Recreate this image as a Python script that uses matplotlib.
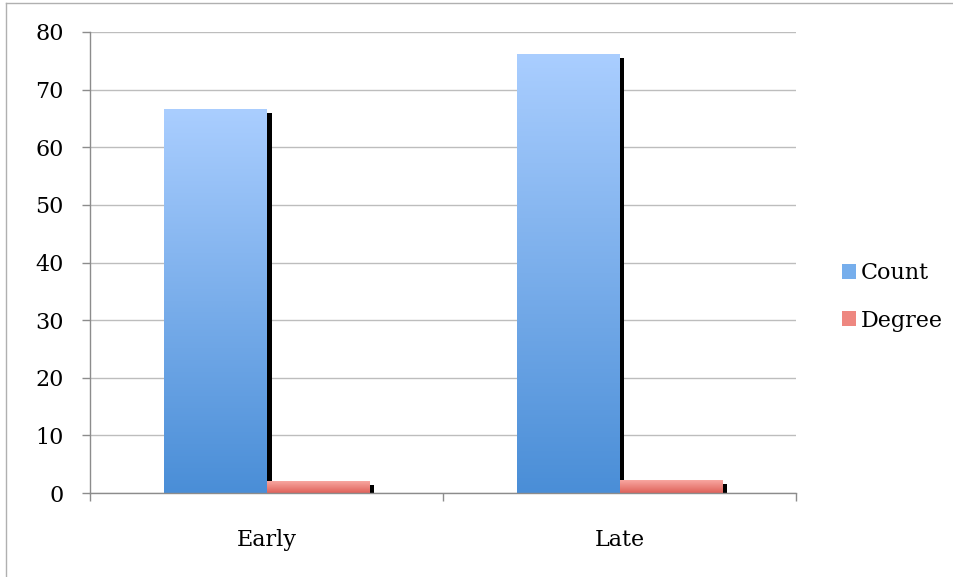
import numpy as np
import matplotlib
matplotlib.use("Agg")
import matplotlib.pyplot as plt
from matplotlib.colors import LinearSegmentedColormap
from matplotlib.patches import Patch
from matplotlib.transforms import ScaledTranslation
from matplotlib.lines import Line2D

categories = ["Early", "Late"]
series_names = ["Count", "Degree"]
count_values = [66.7, 76.2]
degree_values = [2.1, 2.3]
y_ticks = [0, 10, 20, 30, 40, 50, 60, 70, 80]

# gradient colour stops (top, bottom) for each series
grad_colors = {
    "Count": ("#AACEFF", "#4A8ED7"),
    "Degree": ("#FAACA6", "#DF625A"),
}

plt.rcParams["font.family"] = ["DejaVu Serif"]

fig = plt.figure(figsize=(9.54, 5.77), dpi=100)
ax = fig.add_axes([90 / 954, 1 - 493 / 577, 706 / 954, 461 / 577])

x = np.arange(len(categories))
width = 0.289
offsets = [-width / 2, width / 2]
series = [count_values, degree_values]

shadow = ax.transData + ScaledTranslation(5 / 100, -4.5 / 100, fig.dpi_scale_trans)

for name, vals, off in zip(series_names, series, offsets):
    top, bottom = grad_colors[name]
    cmap = LinearSegmentedColormap.from_list(name, [bottom, top])
    grad = np.linspace(0, 1, 256).reshape(-1, 1)
    for xi, v in zip(x, vals):
        left = xi + off - width / 2
        # drop shadow
        ax.bar(xi + off, v, width=width, color="black", zorder=2,
               transform=shadow, clip_on=True)
        # gradient fill clipped to the bar
        bar = ax.bar(xi + off, v, width=width, color="none", zorder=3)[0]
        im = ax.imshow(grad, extent=[left, left + width, 0, v], origin="lower",
                       aspect="auto", cmap=cmap, zorder=3, interpolation="bilinear")
        im.set_clip_path(bar)

ax.set_xlim(-0.5, len(categories) - 0.5)
ax.set_ylim(0, 80)
ax.set_yticks(y_ticks)
ax.set_yticklabels([str(t) for t in y_ticks])
ax.set_xticks(x)
ax.set_xticklabels(categories)
ax.set_xticks(np.arange(-0.5, len(categories)), minor=True)

ax.grid(axis="y", color="#BDBDBD", linewidth=1.0, zorder=0)
ax.set_axisbelow(True)

for s in ["top", "right"]:
    ax.spines[s].set_visible(False)
for s in ["left", "bottom"]:
    ax.spines[s].set_color("#8C8C8C")
    ax.spines[s].set_linewidth(1.0)
ax.spines["bottom"].set_zorder(5)

ax.tick_params(axis="y", length=6, width=1, color="#8C8C8C", pad=13,
               labelsize=16, labelcolor="black")
ax.tick_params(axis="x", which="major", length=0, pad=26, labelsize=16)
ax.tick_params(axis="x", which="minor", length=6, width=1, color="#8C8C8C")

handles = [Patch(facecolor="#76AEEC", edgecolor="none"),
           Patch(facecolor="#EE8780", edgecolor="none")]
fig.legend(handles, series_names, loc="upper left",
           bbox_to_anchor=(822 / 954, 1 - 242 / 577), frameon=False,
           fontsize=16, handlelength=0.65, handleheight=0.65,
           handletextpad=0.2, labelspacing=1.15)

# outer chart frame (top and left edges)
fig.add_artist(Line2D([6 / 954, 6 / 954], [0, 1 - 3 / 577],
                      transform=fig.transFigure, color="#B0B0B0", linewidth=1))
fig.add_artist(Line2D([6 / 954, 1], [1 - 3 / 577, 1 - 3 / 577],
                      transform=fig.transFigure, color="#B0B0B0", linewidth=1))

fig.savefig("out.png", dpi=100)
